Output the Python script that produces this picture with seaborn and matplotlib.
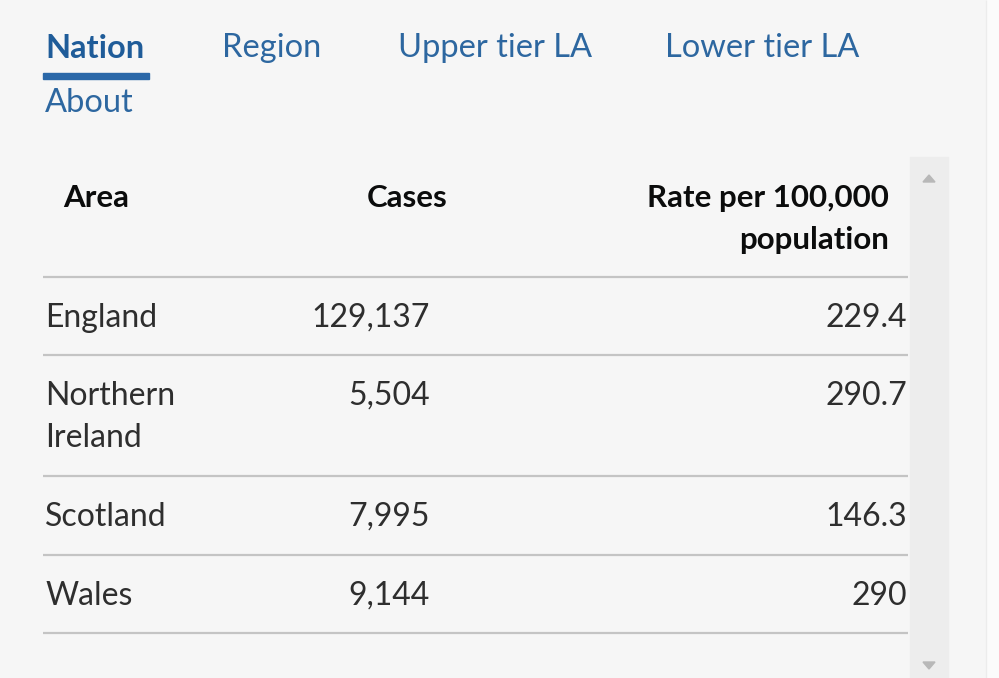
import matplotlib
matplotlib.use("Agg")
import matplotlib.pyplot as plt
import seaborn as sns
from matplotlib.patches import Rectangle, Polygon

# ---- data ----
tabs = ["Nation", "Region", "Upper tier LA", "Lower tier LA", "About"]
headers = ["Area", "Cases", "Rate per 100,000\npopulation"]
areas = ["England", "Northern\nIreland", "Scotland", "Wales"]
cases = ["129,137", "5,504", "7,995", "9,144"]
rates = ["229.4", "290.7", "146.3", "290"]

sns.set_theme(style="white")
FONT = ['Lato', 'DejaVu Sans']
plt.rcParams['font.family'] = FONT

W, H = 999, 678
fig = plt.figure(figsize=(W / 100, H / 100), dpi=100)
fig.patch.set_facecolor("#f6f6f6")
ax = fig.add_axes([0, 0, 1, 1])
ax.set_xlim(0, W)
ax.set_ylim(H, 0)
ax.axis("off")
ax.set_facecolor("#f6f6f6")

# right page edge
ax.add_patch(Rectangle((986, 0), 13, H, color="#fbfbfb", zorder=0))
ax.vlines(986, 0, H, color="#ececec", lw=1)

blue = "#2d67a0"
TS = 23.5
# tabs
tab_pos = [(45, 48), (222, 48), (398, 48), (665, 48), (45, 103)]
for i, (t, (x, y)) in enumerate(zip(tabs, tab_pos)):
    ax.text(x, y, t, fontsize=TS, color="#1f5c99" if i == 0 else blue,
            fontweight="bold" if i == 0 else "normal", va="center", ha="left")
ax.add_patch(Rectangle((43, 73), 106, 6, color="#2b68a8", zorder=3))

# scrollbar
ax.add_patch(Rectangle((910, 157), 38, H - 157, color="#ededed", zorder=1))
ax.add_patch(Polygon([[923, 182], [935, 182], [929, 175]], color="#b8b8b8", zorder=2))
ax.add_patch(Polygon([[923, 662], [935, 662], [929, 669]], color="#b8b8b8", zorder=2))

# header
HS = 22.5
FS = 23
hc = "#0b0c0c"
ax.text(63, 198, headers[0], fontsize=HS, fontweight="bold", color=hc, va="center", ha="left")
ax.text(447, 198, headers[1], fontsize=HS, fontweight="bold", color=hc, va="center", ha="right")
h3 = headers[2].split("\n")
ax.text(889, 198, h3[0], fontsize=HS, fontweight="bold", color=hc, va="center", ha="right")
ax.text(889, 240, h3[1], fontsize=HS, fontweight="bold", color=hc, va="center", ha="right")

line_c = "#c4c4c4"
ax.hlines(277, 43, 908, color=line_c, lw=1.6)

row_y = [318, 396, 517, 596]
row_lines = [355, 476, 555, 633]
tc = "#2e2e2e"
for a, c, r, y, ly in zip(areas, cases, rates, row_y, row_lines):
    parts = a.split("\n")
    for k, p in enumerate(parts):
        ax.text(45, y + 42 * k, p, fontsize=FS, color=tc, va="center", ha="left")
    ax.text(430, y, c, fontsize=FS, color=tc, va="center", ha="right")
    ax.text(907, y, r, fontsize=FS, color=tc, va="center", ha="right")
    ax.hlines(ly, 43, 908, color=line_c, lw=1.6)

fig.savefig("out.png", dpi=100, facecolor=fig.get_facecolor())
